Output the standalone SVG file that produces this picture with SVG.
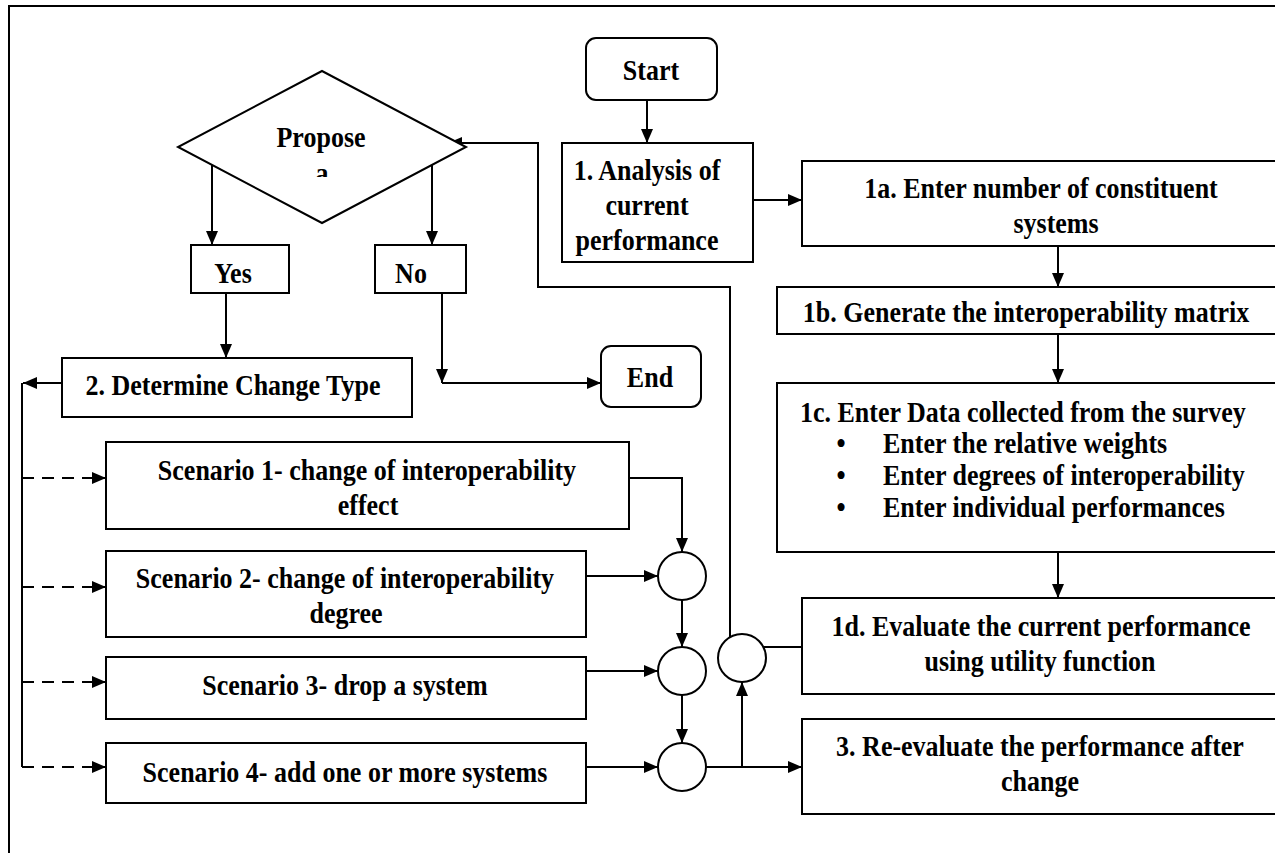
<svg xmlns="http://www.w3.org/2000/svg" width="1275" height="853" viewBox="0 0 1275 853">
<style>
.b{fill:#fff;stroke:#000;stroke-width:2}
.t{font-family:"Liberation Serif","Times New Roman",Times,serif;font-weight:bold;font-size:30px;fill:#000}
.m{text-anchor:middle}
.c{fill:none;stroke:#000;stroke-width:2}
.a{marker-end:url(#ar)}
.d{stroke-dasharray:12 8}
</style>
<defs>
<marker id="ar" markerUnits="userSpaceOnUse" markerWidth="15" markerHeight="13" refX="14" refY="6" orient="auto" viewBox="0 0 15 12">
<path d="M0,0 L14,6 L0,12 z" fill="#000"/>
</marker>
<clipPath id="clipA"><rect x="-40" y="150" width="80" height="27"/></clipPath>
</defs>
<rect width="1275" height="853" fill="#fff"/>
<rect id="frame" x="9" y="6" width="1300" height="900" fill="none" stroke="#000" stroke-width="2"/>

<g id="connectors">
<path class="c a" d="M647,100 V143"/>
<path class="c a" d="M753,200 H802"/>
<path class="c a" d="M1058,246 V287"/>
<path class="c a" d="M1058,334 V383"/>
<path class="c a" d="M1058,552 V598"/>
<path class="c" d="M802,647 H764"/>
<path class="c a" d="M730,637 V287 H538 V143 H448"/>
<path class="c a" d="M212,161 V245"/>
<path class="c a" d="M432,161 V245"/>
<path class="c a" d="M226,293 V358"/>
<path class="c a" d="M442,293 V383"/>
<path class="c a" d="M442,383 H601"/>
<path class="c a" d="M62,383 H23"/>
<path class="c" d="M22,383 V767"/>
<path class="c d a" d="M22,478 H106"/>
<path class="c d a" d="M22,587 H106"/>
<path class="c d a" d="M22,682 H106"/>
<path class="c d a" d="M22,767 H106"/>
<path class="c a" d="M629,478 H682 V552"/>
<path class="c a" d="M586,576 H658"/>
<path class="c a" d="M682,600 V647"/>
<path class="c a" d="M586,671 H658"/>
<path class="c a" d="M682,695 V743"/>
<path class="c a" d="M586,767 H658"/>
<path class="c a" d="M706,767 H802"/>
<path class="c a" d="M742,767 V682"/>
</g>

<g id="start">
<rect class="b" x="586" y="38" width="131" height="62" rx="10"/>
<text class="t m" transform="translate(651,80) scale(0.8667,1)">Start</text>
</g>
<g id="analysis">
<rect class="b" x="562" y="143" width="191" height="119"/>
<text class="t m" transform="translate(647,180) scale(0.8667,1)">1. Analysis of</text>
<text class="t m" transform="translate(647,215) scale(0.8667,1)">current</text>
<text class="t m" transform="translate(647,250) scale(0.8667,1)">performance</text>
</g>
<g id="step1a">
<rect class="b" x="802" y="161" width="500" height="85"/>
<text class="t m" transform="translate(1041,198) scale(0.8667,1)">1a. Enter number of constituent</text>
<text class="t m" transform="translate(1056,233) scale(0.8667,1)">systems</text>
</g>
<g id="step1b">
<rect class="b" x="777" y="287" width="520" height="47"/>
<text class="t m" transform="translate(1026,322) scale(0.8667,1)">1b. Generate the interoperability matrix</text>
</g>
<g id="step1c">
<rect class="b" x="777" y="383" width="520" height="169"/>
<text class="t" transform="translate(800,422) scale(0.8667,1)">1c. Enter Data collected from the survey</text>
<text class="t m" transform="translate(841,453) scale(0.8667,1)">•</text>
<text class="t" transform="translate(883,453) scale(0.8667,1)">Enter the relative weights</text>
<text class="t m" transform="translate(841,485) scale(0.8667,1)">•</text>
<text class="t" transform="translate(883,485) scale(0.8667,1)">Enter degrees of interoperability</text>
<text class="t m" transform="translate(841,517) scale(0.8667,1)">•</text>
<text class="t" transform="translate(883,517) scale(0.8667,1)">Enter individual performances</text>
</g>
<g id="step1d">
<rect class="b" x="802" y="598" width="500" height="96"/>
<text class="t m" transform="translate(1041,636) scale(0.8667,1)">1d. Evaluate the current performance</text>
<text class="t m" transform="translate(1040,671) scale(0.8667,1)">using utility function</text>
</g>
<g id="step3">
<rect class="b" x="802" y="719" width="500" height="95"/>
<text class="t m" transform="translate(1040,756) scale(0.8667,1)">3. Re-evaluate the performance after</text>
<text class="t m" transform="translate(1040,791) scale(0.8667,1)">change</text>
</g>
<g id="decision">
<polygon class="b" points="322,71 466,147 322,223 178,147"/>
<text class="t m" transform="translate(321,147) scale(0.8667,1)">Propose</text>
<g transform="translate(322,0)"><text class="t m" y="183" clip-path="url(#clipA)" transform="scale(0.8667,1)">a</text></g>
</g>
<g id="yes">
<rect class="b" x="191" y="245" width="98" height="48"/>
<text class="t m" transform="translate(233,283) scale(0.8667,1)">Yes</text>
</g>
<g id="no">
<rect class="b" x="375" y="245" width="91" height="48"/>
<text class="t m" transform="translate(411,283) scale(0.8667,1)">No</text>
</g>
<g id="end">
<rect class="b" x="601" y="346" width="100" height="61" rx="10"/>
<text class="t m" transform="translate(650,387) scale(0.8667,1)">End</text>
</g>
<g id="determine">
<rect class="b" x="62" y="358" width="350" height="59"/>
<text class="t m" transform="translate(233,395) scale(0.8667,1)">2. Determine Change Type</text>
</g>
<g id="scenario1">
<rect class="b" x="106" y="442" width="523" height="87"/>
<text class="t m" transform="translate(367,480) scale(0.8667,1)">Scenario 1- change of interoperability</text>
<text class="t m" transform="translate(368,515) scale(0.8667,1)">effect</text>
</g>
<g id="scenario2">
<rect class="b" x="106" y="551" width="480" height="86"/>
<text class="t m" transform="translate(345,588) scale(0.8667,1)">Scenario 2- change of interoperability</text>
<text class="t m" transform="translate(346,623) scale(0.8667,1)">degree</text>
</g>
<g id="scenario3">
<rect class="b" x="106" y="657" width="480" height="62"/>
<text class="t m" transform="translate(345,695) scale(0.8667,1)">Scenario 3- drop a system</text>
</g>
<g id="scenario4">
<rect class="b" x="106" y="743" width="480" height="60"/>
<text class="t m" transform="translate(345,782) scale(0.8667,1)">Scenario 4- add one or more systems</text>
</g>
<g id="junction1"><circle class="b" cx="682" cy="576" r="24"/></g>
<g id="junction2"><circle class="b" cx="682" cy="671" r="24"/></g>
<g id="junction3"><circle class="b" cx="682" cy="767" r="24"/></g>
<g id="junction4"><circle class="b" cx="742" cy="658" r="24"/></g>
</svg>
